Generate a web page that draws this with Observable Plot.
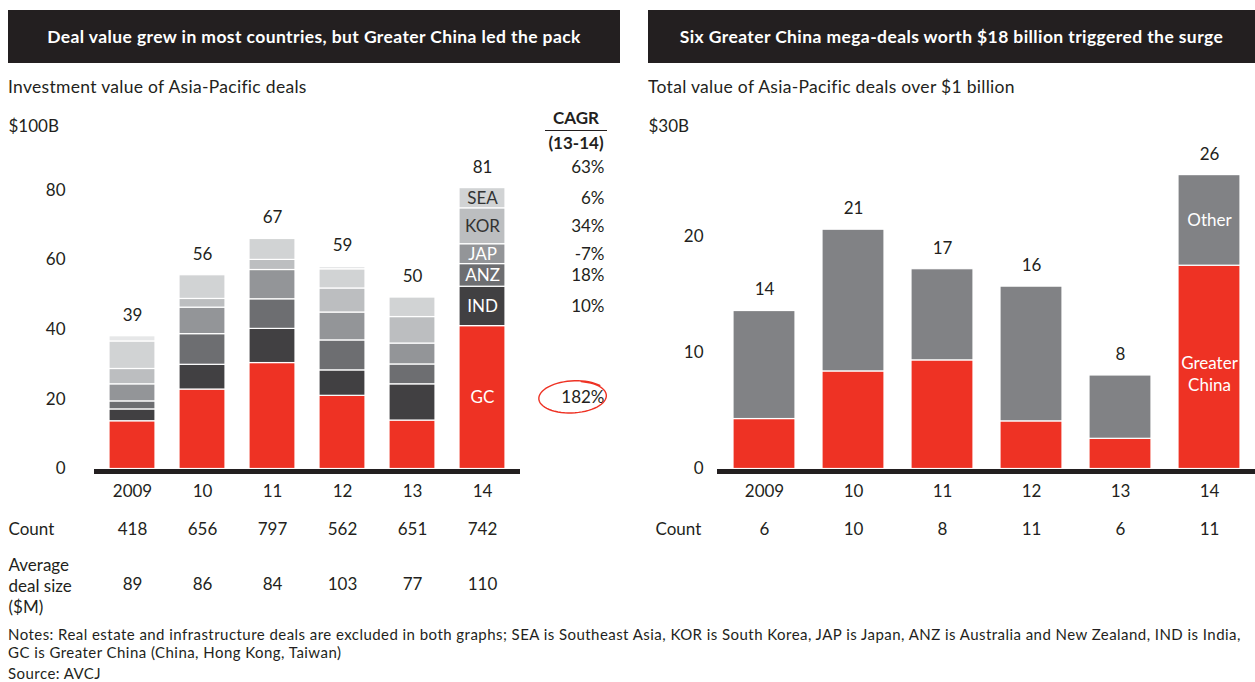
<!DOCTYPE html>
<html>
<head>
<meta charset="utf-8">
<script src="https://cdn.jsdelivr.net/npm/d3@7"></script>
<script src="https://cdn.jsdelivr.net/npm/@observablehq/plot@0.6"></script>
<style>
  html, body { margin: 0; padding: 0; background: #fff; }
  body { width: 1255px; height: 682px; position: relative; overflow: hidden;
         font-family: Lato, "Open Sans", sans-serif; color: #231f20; }
  .abs { position: absolute; }
  .hdr { background: #231f20; color: #fff; font-weight: 700; font-size: 17.5px; letter-spacing: 0.4px;
         display: flex; align-items: center; justify-content: center; top: 10px; height: 53px; }
  .sub { font-size: 17.5px; letter-spacing: 0.3px; top: 76px; white-space: nowrap; }
  .notes { font-size: 15px; letter-spacing: 0.45px; line-height: 18px; white-space: nowrap; }
</style>
</head>
<body>
<div class="abs hdr" style="left:8px;width:612px;">Deal value grew in most countries, but Greater China led the pack</div>
<div class="abs hdr" style="left:648px;width:607px;">Six Greater China mega-deals worth $18 billion triggered the surge</div>
<div class="abs sub" style="left:8px;">Investment value of Asia-Pacific deals</div>
<div class="abs sub" style="left:648px;">Total value of Asia-Pacific deals over $1 billion</div>
<div class="abs" style="left:545px;width:62px;top:106px;text-align:center;font-weight:700;font-size:17px;line-height:24px;">
  <div style="border-bottom:1.5px solid #231f20;">CAGR</div>
  <div>(13-14)</div>
</div>
<div id="left" class="abs" style="left:0;top:100px;"></div>
<div id="right" class="abs" style="left:640px;top:100px;"></div>
<div class="abs notes" style="left:8px;top:625px;">Notes: Real estate and infrastructure deals are excluded in both graphs; SEA is Southeast Asia, KOR is South Korea, JAP is Japan, ANZ is Australia and New Zealand, IND is India,<br>GC is Greater China (China, Hong Kong, Taiwan)</div>
<div class="abs notes" style="left:8px;top:664px;">Source: AVCJ</div>
<script>
// ---------- data: left chart ----------
const years = ["2009", "10", "11", "12", "13", "14"];
const regions = ["GC", "IND", "ANZ", "JAP", "KOR", "SEA", "Other"];
const regionColors = ["#ee3224", "#414042", "#6d6e71", "#939598", "#bcbec0", "#d1d3d4", "#e6e7e8"];
const gcValues    = [13.7, 22.8, 30.4, 21.0, 13.9, 41.0];
const indValues   = [3.4, 7.1, 9.8, 7.3, 10.4, 11.3];
const anzValues   = [2.3, 8.8, 8.5, 8.6, 5.7, 6.5];
const japValues   = [4.9, 7.6, 8.4, 8.0, 6.0, 5.7];
const korValues   = [4.4, 2.5, 2.9, 6.9, 7.6, 10.3];
const seaValues   = [7.9, 6.8, 6.0, 5.5, 5.6, 5.8];
const otherValues = [1.5, 0, 0, 0.7, 0, 0];
const totalLabels = [39, 56, 67, 59, 50, 81];
const dealCounts  = [418, 656, 797, 562, 651, 742];
const avgDealSize = [89, 86, 84, 103, 77, 110];
const cagrLabels  = ["182%", "10%", "18%", "-7%", "34%", "6%", null];
const cagrTotal   = "63%";
const yTicksLeft  = [0, 20, 40, 60, 80];

// ---------- data: right chart ----------
const bigGC     = [4.3, 8.4, 9.35, 4.1, 2.6, 17.5];
const bigOther  = [9.3, 12.2, 7.85, 11.6, 5.45, 7.8];
const bigTotals = [14, 21, 17, 16, 8, 26];
const bigCounts = [6, 10, 8, 11, 6, 11];
const bigSeries = ["Greater China", "Other"];
const bigColors = ["#ee3224", "#818285"];
const yTicksRight = [0, 10, 20];

const FONT = "Lato, 'Open Sans', sans-serif";
const INK = "#231f20";

// ---------- build stacked tables ----------
const seriesLeft = [gcValues, indValues, anzValues, japValues, korValues, seaValues, otherValues];
const leftRows = [];
const leftTotals = [];
years.forEach((yr, i) => {
  let acc = 0;
  regions.forEach((r, k) => {
    const v = seriesLeft[k][i];
    leftRows.push({year: yr, region: r, y1: acc, y2: acc + v, mid: acc + v / 2, cagr: cagrLabels[k], value: v});
    acc += v;
  });
  leftTotals.push({year: yr, top: acc, label: totalLabels[i], count: dealCounts[i], avg: avgDealSize[i]});
});
const leftRowsNonZero = leftRows.filter(d => d.value > 0);
const rows14 = leftRows.filter(d => d.year === "14");

const seriesRight = [bigGC, bigOther];
const rightRows = [];
const rightTotals = [];
years.forEach((yr, i) => {
  let acc = 0;
  bigSeries.forEach((s, k) => {
    const v = seriesRight[k][i];
    rightRows.push({year: yr, series: s, y1: acc, y2: acc + v, mid: acc + v / 2});
    acc += v;
  });
  rightTotals.push({year: yr, top: acc, label: bigTotals[i], count: bigCounts[i]});
});

const H = 520, MT = 20, MB = 151.5;
const T = {fontSize: 17, lineAnchor: "middle"};

// ---------- left plot ----------
const left = Plot.plot({
  width: 640, height: H,
  marginTop: MT, marginBottom: MB, marginLeft: 94, marginRight: 120,
  style: {fontFamily: FONT, fontSize: "17px", color: INK, overflow: "visible"},
  x: {domain: years, paddingInner: 0.343, paddingOuter: 0.207, axis: null},
  y: {domain: [0, 100], axis: null},
  color: {domain: regions, range: regionColors},
  marks: [
    Plot.barY(leftRowsNonZero, {x: "year", y1: "y1", y2: "y2", fill: "region", stroke: "#fff", strokeWidth: 1.2}),
    Plot.ruleY([0], {stroke: INK, strokeWidth: 5, dy: 2.5}),
    Plot.axisY({ticks: yTicksLeft, tickSize: 0, tickPadding: 29, fontSize: 17}),
    Plot.text([100], {...T, y: d => d, text: () => "$100B", frameAnchor: "left", dx: -86, dy: 6, textAnchor: "start"}),
    Plot.text(leftTotals, {...T, x: "year", y: "top", text: "label", dy: -21}),
    // labels inside 2014 bar
    Plot.text(leftRows, {...T, x: "year", y: "mid", text: d => d.year === "14" && (d.region === "SEA" || d.region === "KOR") ? d.region : null, fill: "#333"}),
    Plot.text(leftRows, {...T, x: "year", y: "mid", text: d => d.year === "14" && d.value > 0 && !(d.region === "SEA" || d.region === "KOR") ? d.region : null, fill: "#fff"}),
    // CAGR column
    Plot.text(rows14, {...T, x: "year", y: "mid", text: "cagr", dx: 122, textAnchor: "end"}),
    Plot.text(leftTotals.filter(d => d.year === "14"), {...T, x: "year", y: "top", text: () => cagrTotal, dx: 122, dy: -21, textAnchor: "end"}),
    // x labels and rows
    Plot.text(years, {...T, x: d => d, text: d => d, frameAnchor: "bottom", dy: 23}),
    Plot.text(leftTotals, {...T, x: "year", text: "count", frameAnchor: "bottom", dy: 61}),
    Plot.text(leftTotals, {...T, x: "year", text: "avg", frameAnchor: "bottom", dy: 116}),
    Plot.text(["Count"], {...T, text: d => d, frameAnchor: "bottom-left", dx: -86, dy: 61, textAnchor: "start"}),
    Plot.text(["Average\ndeal size\n($M)"], {...T, text: d => d, frameAnchor: "bottom-left", dx: -86, dy: 116, textAnchor: "start", lineHeight: 1.23})
  ]
});
document.getElementById("left").appendChild(left);

// hand-drawn circle around the GC CAGR
{
  const sx = left.scale("x"), sy = left.scale("y");
  const gc14 = rows14.find(d => d.region === "GC");
  const cx = sx.apply("14") + sx.bandwidth / 2 + 91;
  const cy = sy.apply(gc14.mid);
  const svg = d3.select(left.tagName.toLowerCase() === "svg" ? left : left.querySelector("svg"));
  const rx = 33, ry = 15.5;
  const p = d3.path();
  const n = 60;
  for (let i = 0; i <= n + 6; i++) {
    const t = -Math.PI * 0.42 + (i / n) * 2 * Math.PI;
    const k = 1 + 0.05 * (i / n);
    const x = cx + rx * k * Math.cos(t);
    const y = cy + ry * k * Math.sin(t) - 1.5 * Math.cos(t);
    if (i === 0) p.moveTo(x, y); else p.lineTo(x, y);
  }
  svg.append("path").attr("d", p.toString()).attr("fill", "none")
    .attr("stroke", "#ee3224").attr("stroke-width", 1.4).attr("stroke-linecap", "round");
}

// ---------- right plot ----------
const right = Plot.plot({
  width: 615, height: H,
  marginTop: MT, marginBottom: MB, marginLeft: 77, marginRight: 0,
  style: {fontFamily: FONT, fontSize: "17px", color: INK, overflow: "visible"},
  x: {domain: years, paddingInner: 0.306, paddingOuter: 0.162, axis: null},
  y: {domain: [0, 30], axis: null},
  color: {domain: bigSeries, range: bigColors},
  marks: [
    Plot.barY(rightRows, {x: "year", y1: "y1", y2: "y2", fill: "series", stroke: "#fff", strokeWidth: 1.2}),
    Plot.ruleY([0], {stroke: INK, strokeWidth: 5, dy: 2.5}),
    Plot.axisY({ticks: yTicksRight, tickSize: 0, tickPadding: 14, fontSize: 17}),
    Plot.text([30], {...T, y: d => d, text: () => "$30B", frameAnchor: "left", dx: -69, dy: 6, textAnchor: "start"}),
    Plot.text(rightTotals, {...T, x: "year", y: "top", text: "label", dy: -21}),
    Plot.text(rightRows, {...T, x: "year", y: "mid", text: d => d.year === "14" && d.series === "Other" ? "Other" : null, fill: "#fff"}),
    Plot.text(rightRows, {...T, x: "year", y: "mid", text: d => d.year === "14" && d.series === "Greater China" ? "Greater\nChina" : null, fill: "#fff", dy: 6, lineHeight: 1.3}),
    Plot.text(years, {...T, x: d => d, text: d => d, frameAnchor: "bottom", dy: 23}),
    Plot.text(rightTotals, {...T, x: "year", text: "count", frameAnchor: "bottom", dy: 61}),
    Plot.text(["Count"], {...T, text: d => d, frameAnchor: "bottom-left", dx: -62, dy: 61, textAnchor: "start"})
  ]
});
document.getElementById("right").appendChild(right);
</script>
</body>
</html>
